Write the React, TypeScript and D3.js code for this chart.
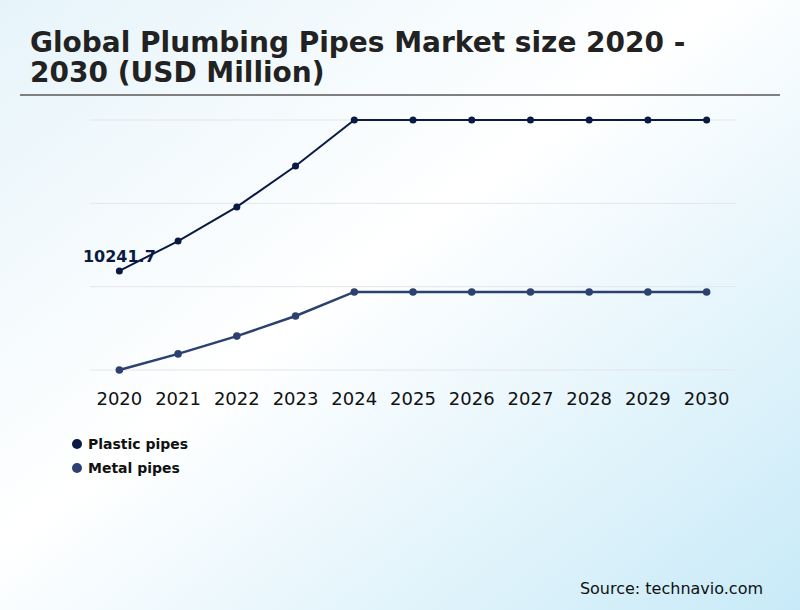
import * as d3 from 'd3'

const years = ['2020', '2021', '2022', '2023', '2024', '2025', '2026', '2027', '2028', '2029', '2030']
const plasticPipes = [10241.7, 11520, 12980, 14730, 16700, 16700, 16700, 16700, 16700, 16700, 16700]
const metalPipes = [6000, 6690, 7450, 8310, 9340, 9340, 9340, 9340, 9340, 9340, 9340]
const seriesNames = ['Plastic pipes', 'Metal pipes']
const seriesColors = ['#0b1a43', '#2c4170']

const width = 800
const height = 610

export default function App() {
  const x = d3.scalePoint<string>().domain(years).range([90, 736]).padding(0.5)
  const yMin = d3.min(metalPipes) as number
  const yMax = d3.max(plasticPipes) as number
  const y = d3.scaleLinear().domain([yMin, yMax]).range([370, 120])
  const grid = d3.range(4).map((i) => yMin + (i * (yMax - yMin)) / 3)

  const line = d3
    .line<number>()
    .x((_, i) => x(years[i]) as number)
    .y((d) => y(d))

  const series = [plasticPipes, metalPipes]

  return (
    <svg
      width={width}
      height={height}
      style={{ position: 'absolute', left: 0, top: 0, fontFamily: 'DejaVu Sans, sans-serif' }}
    >
      <defs>
        <linearGradient id="bg" x1="0" y1="0" x2="1" y2="1">
          <stop offset="0" stopColor="#e6f4fa" />
          <stop offset="0.45" stopColor="#ffffff" />
          <stop offset="1" stopColor="#c8eaf8" />
        </linearGradient>
      </defs>
      <rect width={width} height={height} fill="url(#bg)" />

      <text x={30} y={52} fontSize={28} fontWeight="bold" fill="#222">
        Global Plumbing Pipes Market size 2020 -
      </text>
      <text x={30} y={82} fontSize={28} fontWeight="bold" fill="#222">
        2030 (USD Million)
      </text>
      <line x1={20} x2={780} y1={95} y2={95} stroke="#808080" strokeWidth={2} />

      <g>
        {grid.map((g, i) => (
          <line key={i} x1={90} x2={736} y1={y(g)} y2={y(g)} stroke="#e3e6ea" strokeWidth={1} />
        ))}
      </g>

      {series.map((s, si) => (
        <g key={si}>
          <path d={line(s) ?? ''} fill="none" stroke={seriesColors[si]} strokeWidth={si === 0 ? 2 : 2.5} />
          {s.map((v, i) => (
            <circle key={i} cx={x(years[i])} cy={y(v)} r={si === 0 ? 3.5 : 3.8} fill={seriesColors[si]} />
          ))}
        </g>
      ))}

      <text
        x={x(years[0])}
        y={y(plasticPipes[0]) - 9}
        textAnchor="middle"
        fontSize={16}
        fontWeight="bold"
        fill="#0b1a43"
      >
        {plasticPipes[0]}
      </text>

      <g>
        {years.map((yr) => (
          <text key={yr} x={x(yr)} y={405} textAnchor="middle" fontSize={18} fill="#111">
            {yr}
          </text>
        ))}
      </g>

      <g>
        {seriesNames.map((n, i) => (
          <g key={n} transform={`translate(77,${444 + i * 24})`}>
            <circle r={5} fill={seriesColors[i]} />
            <text x={11} y={5} fontSize={14} fontWeight="bold" fill="#111">
              {n}
            </text>
          </g>
        ))}
      </g>

      <text x={763} y={594} textAnchor="end" fontSize={16} fill="#111">
        Source: technavio.com
      </text>
    </svg>
  )
}
